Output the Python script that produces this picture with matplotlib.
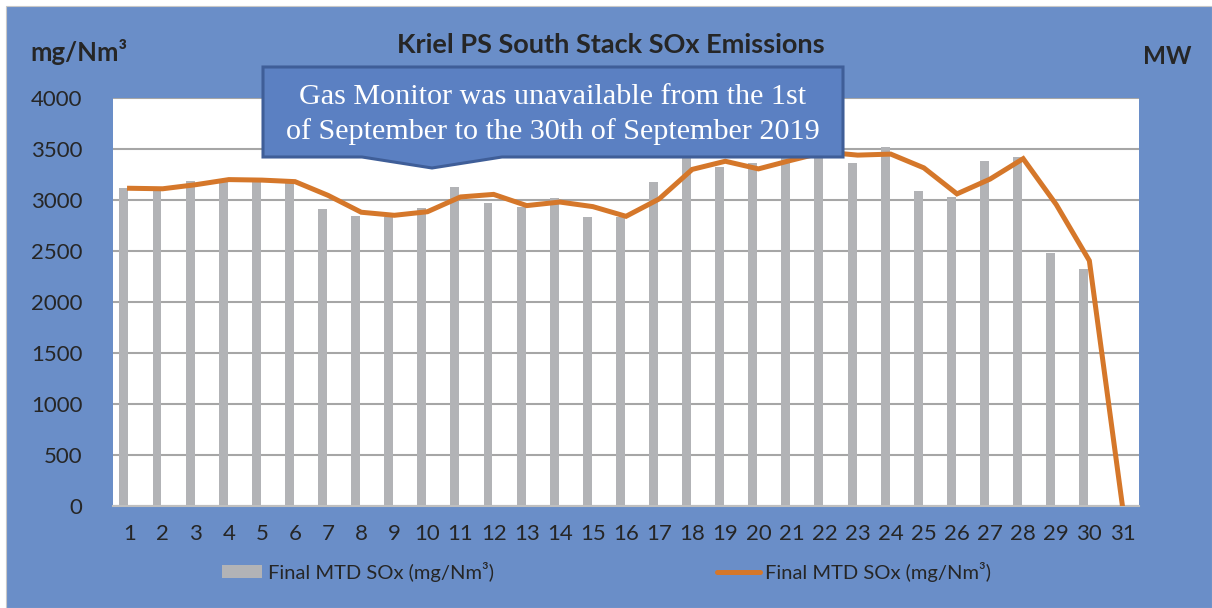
import matplotlib
matplotlib.use("Agg")
import matplotlib.pyplot as plt
from matplotlib.patches import Polygon, Rectangle
from matplotlib.lines import Line2D
import numpy as np

# data
days = list(range(1, 32))
bar_sox = [3120, 3100, 3190, 3180, 3180, 3165, 2915, 2845, 2835, 2925,
           3130, 2970, 2930, 3020, 2835, 2835, 3175, 3450, 3320, 3360,
           3420, 3480, 3365, 3520, 3085, 3025, 3380, 3420, 2480, 2320, 0]
line_sox = [3115, 3110, 3150, 3200, 3195, 3180, 3045, 2880, 2850, 2885,
            3030, 3055, 2945, 2980, 2935, 2840, 3010, 3300, 3380, 3305,
            3390, 3470, 3440, 3450, 3315, 3060, 3205, 3405, 2955, 2405, 0]
yticks = [0, 500, 1000, 1500, 2000, 2500, 3000, 3500, 4000]

bg = "#6A8EC8"
bar_col = "#B2B3B6"
line_col = "#D5772A"
txt = "#262626"
font = ["Lato", "DejaVu Sans"]

W, H = 1212, 608
fig = plt.figure(figsize=(W / 100, H / 100), dpi=100, facecolor="white")

def fx(px):
    return px / W

def fy(py):
    return 1 - py / H

# blue chart background with a thin white margin top-left
fig.patches.append(Rectangle((fx(6), 0), 1 - fx(6), fy(6), transform=fig.transFigure,
                             facecolor=bg, edgecolor="#C8C8C8", linewidth=0.8, zorder=-5))

ax = fig.add_axes([fx(113), fy(506), fx(1139) - fx(113), fy(98) - fy(506)])
ax.set_facecolor("white")
# bars sit a little left of the category centre (clustered slot in the original)
x = np.array(days)
ax.bar(x - 0.17, bar_sox, width=0.27, color=bar_col, zorder=2)
ax.plot(days, line_sox, color=line_col, linewidth=3.6, zorder=3, solid_joinstyle="miter")

ax.set_xlim(0.5, 31.5)
ax.set_ylim(0, 4000)
ax.set_yticks(yticks)
ax.set_xticks(days)
ax.grid(axis="y", color="#A6A6A6", linewidth=1.5, zorder=1)
ax.set_axisbelow(True)
for s in ["top", "left", "right"]:
    ax.spines[s].set_visible(False)
ax.spines["bottom"].set_color("#BFBFBF")
ax.spines["bottom"].set_linewidth(1.5)
ax.tick_params(length=0, labelsize=16, labelcolor=txt, pad=13)
ax.tick_params(axis="y", pad=22)
for lab in ax.get_xticklabels() + ax.get_yticklabels():
    lab.set_family(font)

fig.text(fx(611), fy(45), "Kriel PS South Stack SOx Emissions", ha="center", va="center",
         fontsize=19.5, fontweight="bold", color=txt, family=font)
fig.text(fx(30), fy(52), "mg/Nm³", ha="left", va="center", fontsize=18.5,
         fontweight="bold", color=txt, family=font)
fig.text(fx(1167), fy(57), "MW", ha="center", va="center", fontsize=17.5,
         fontweight="bold", color=txt, family=font)

# callout box
pts = [(263, 67), (843, 67), (843, 157), (502, 157), (432, 168), (362, 157), (263, 157)]
fig.patches.append(Polygon([(fx(x), fy(y)) for x, y in pts], closed=True,
                           transform=fig.transFigure, facecolor="#5B80C2",
                           edgecolor="#3F5E98", linewidth=2.2, zorder=10))
fig.text(fx(553), fy(97), "Gas Monitor was unavailable from the 1st", ha="center", va="center",
         fontsize=21.7, color="white", family="Liberation Serif", zorder=11)
fig.text(fx(553), fy(132), "of September to the 30th of September 2019", ha="center", va="center",
         fontsize=21.7, color="white", family="Liberation Serif", zorder=11)

# legend
fig.patches.append(Rectangle((fx(222), fy(578)), fx(262) - fx(222), fy(565) - fy(578),
                             transform=fig.transFigure, facecolor=bar_col, edgecolor="none"))
fig.text(fx(268), fy(572), "Final MTD SOx (mg/Nm³)", ha="left", va="center",
         fontsize=14.5, color=txt, family=font)
fig.lines.append(Line2D([fx(717), fx(760)], [fy(572), fy(572)], transform=fig.transFigure,
                        color=line_col, linewidth=3.6, solid_capstyle="round"))
fig.text(fx(765), fy(572), "Final MTD SOx (mg/Nm³)", ha="left", va="center",
         fontsize=14.5, color=txt, family=font)

fig.savefig("out.png", dpi=100, facecolor="white")
